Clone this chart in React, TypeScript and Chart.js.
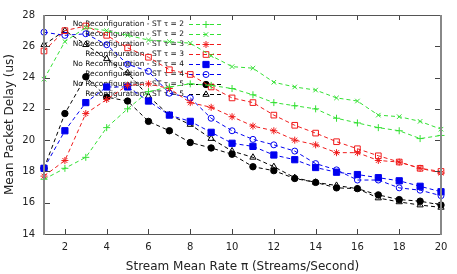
import React, { useEffect, useRef } from "react";
import { Chart, registerables } from "chart.js";
import { drawPoint } from "chart.js/helpers";

Chart.register(...registerables);

// ---- data ----
const rates = [1, 2, 3, 4, 5, 6, 7, 8, 9, 10, 11, 12, 13, 14, 15, 16, 17, 18, 19, 20];
const noReconfTau2 = [17.5, 18.2, 18.9, 20.8, 22.0, 23.1, 23.4, 23.6, 23.5, 23.3, 22.9, 22.4, 22.2, 22.0, 21.4, 21.1, 20.8, 20.6, 20.1, 20.3];
const reconfTau2 = [23.9, 26.3, 27.2, 27.0, 26.7, 26.4, 26.3, 26.2, 25.4, 24.7, 24.6, 23.7, 23.4, 23.2, 22.7, 22.5, 21.6, 21.5, 21.2, 20.7];
const noReconfTau3 = [17.7, 18.7, 21.7, 22.6, 23.5, 23.6, 23.3, 22.4, 22.1, 21.5, 20.9, 20.6, 20.0, 19.7, 19.2, 19.2, 18.7, 18.6, 18.2, 17.9];
const reconfTau3 = [25.7, 27.0, 27.3, 26.7, 25.9, 25.3, 24.5, 24.2, 23.4, 22.7, 22.4, 21.6, 20.95, 20.45, 19.9, 19.45, 19.0, 18.6, 18.2, 18.0];
const noReconfTau4 = [18.2, 20.6, 22.4, 23.4, 23.4, 22.5, 21.6, 21.2, 20.5, 19.8, 19.6, 19.05, 18.75, 18.25, 17.95, 17.8, 17.6, 17.4, 17.05, 16.7];
const reconfTau4 = [26.9, 26.7, 26.8, 26.1, 24.85, 24.4, 23.0, 22.7, 21.4, 20.6, 20.05, 19.7, 19.3, 18.5, 18.1, 17.45, 17.45, 16.95, 16.8, 16.45];
const noReconfTau5 = [18.2, 21.7, 24.05, 22.75, 22.5, 21.2, 20.6, 19.85, 19.5, 19.1, 18.3, 18.05, 17.55, 17.3, 16.95, 16.9, 16.5, 16.2, 16.1, 15.85];
const reconfTau5 = [26.1, 27.0, 26.1, 25.2, 24.3, 22.8, 21.6, 21.0, 20.1, 19.3, 18.9, 18.3, 17.6, 17.3, 17.1, 16.9, 16.3, 16.05, 15.85, 15.7];

const seriesLabels = [
  "No Reconfiguration - ST τ = 2",
  "Reconfiguration - ST τ = 2",
  "No Reconfiguration - ST τ = 3",
  "Reconfiguration - ST τ = 3",
  "No Reconfiguration - ST τ = 4",
  "Reconfiguration - ST τ = 4",
  "No Reconfiguration - ST τ = 5",
  "Reconfiguration - ST τ = 5",
];
const seriesValues = [
  noReconfTau2, reconfTau2, noReconfTau3, reconfTau3,
  noReconfTau4, reconfTau4, noReconfTau5, reconfTau5,
];
const xTicks = [2, 4, 6, 8, 10, 12, 14, 16, 18, 20];
const yTicks = [14, 16, 18, 20, 22, 24, 26, 28];
const xTitle = "Stream Mean Rate π (Streams/Second)";
const yTitle = "Mean Packet Delay (us)";

// ---- styles ----
const GREEN = "#33e033";
const RED = "#f01c1c";
const BLUE = "#0000f0";
const BLACK = "#000000";
const styles = [
  { color: GREEN, point: "cross", radius: 3.5, fill: false },
  { color: GREEN, point: "crossRot", radius: 3.2, fill: false },
  { color: RED, point: "star", radius: 3.5, fill: false },
  { color: RED, point: "rect", radius: 4, fill: false },
  { color: BLUE, point: "rect", radius: 4.4, fill: true },
  { color: BLUE, point: "circle", radius: 3, fill: false },
  { color: BLACK, point: "circle", radius: 3.2, fill: true },
  { color: BLACK, point: "triangle", radius: 3.6, fill: false },
];
const FONT = "'DejaVu Sans', Verdana, sans-serif";
const DASH = [4, 3];

const framePlugin = {
  id: "gnuFrame",
  beforeDatasetsDraw(chart: any) {
    const { ctx } = chart;
    ctx.save();
    ctx.font = `7.5px ${FONT}`;
    ctx.textAlign = "right";
    ctx.textBaseline = "middle";
    seriesLabels.forEach((lab, i) => {
      const y = 24 + i * 10;
      const st = styles[i];
      ctx.fillStyle = "#111";
      ctx.fillText(lab, 184, y);
      ctx.strokeStyle = st.color;
      ctx.lineWidth = 1;
      ctx.setLineDash(DASH);
      ctx.beginPath();
      ctx.moveTo(189, y + 0.5);
      ctx.lineTo(224, y + 0.5);
      ctx.stroke();
      ctx.setLineDash([]);
      ctx.fillStyle = st.fill ? st.color : "rgba(0,0,0,0)";
      drawPoint(ctx, { pointStyle: st.point, radius: st.radius, rotation: 0, borderWidth: 1 } as any, 206, y + 0.5);
    });
    ctx.restore();
  },
  afterDatasetsDraw(chart: any) {
    const { ctx, chartArea: a, scales } = chart;
    ctx.save();
    ctx.setLineDash([]);
    ctx.strokeStyle = "#444";
    ctx.lineWidth = 1;
    // ticks
    ctx.beginPath();
    xTicks.forEach((v) => {
      const x = Math.round(scales.x.getPixelForValue(v)) + 0.5;
      ctx.moveTo(x, a.bottom);
      ctx.lineTo(x, a.bottom - 5);
      ctx.moveTo(x, a.top);
      ctx.lineTo(x, a.top + 5);
    });
    yTicks.forEach((v) => {
      const y = Math.round(scales.y.getPixelForValue(v)) + 0.5;
      ctx.moveTo(a.left, y);
      ctx.lineTo(a.left + 6, y);
      ctx.moveTo(a.right, y);
      ctx.lineTo(a.right - 6, y);
    });
    ctx.stroke();
    // frame
    ctx.strokeStyle = "#555";
    ctx.beginPath();
    ctx.moveTo(a.left, Math.round(a.top) + 0.5);
    ctx.lineTo(a.right, Math.round(a.top) + 0.5);
    ctx.moveTo(a.left, Math.round(a.bottom) + 0.5);
    ctx.lineTo(a.right, Math.round(a.bottom) + 0.5);
    ctx.stroke();
    ctx.strokeStyle = "#888";
    ctx.lineWidth = 2;
    ctx.beginPath();
    ctx.moveTo(a.left, a.top);
    ctx.lineTo(a.left, a.bottom + 1);
    ctx.moveTo(a.right, a.top);
    ctx.lineTo(a.right, a.bottom + 1);
    ctx.stroke();
    ctx.restore();
  },
};

export default function App() {
  const ref = useRef<HTMLCanvasElement>(null);
  useEffect(() => {
    document.body.style.margin = "0";
    const canvas = ref.current!;
    const datasets = seriesValues.map((vals, i) => {
      const st = styles[i];
      return {
        label: seriesLabels[i],
        data: rates.map((r, k) => ({ x: r, y: vals[k] })),
        borderColor: st.color,
        backgroundColor: st.color,
        borderWidth: 1,
        borderDash: DASH,
        tension: 0,
        pointStyle: st.point,
        pointRadius: st.radius,
        pointHoverRadius: st.radius,
        pointBorderColor: st.color,
        pointBackgroundColor: st.fill ? st.color : "rgba(0,0,0,0)",
        pointBorderWidth: 1,
        clip: false,
      };
    });
    const chart = new Chart(canvas, {
      type: "line",
      data: { datasets } as any,
      options: {
        animation: false,
        responsive: false,
        devicePixelRatio: 1,
        layout: { padding: { top: 13, right: 16, bottom: 0, left: 0 } },
        plugins: { legend: { display: false }, tooltip: { enabled: false } },
        scales: {
          x: {
            type: "linear",
            min: 1,
            max: 20,
            afterBuildTicks: (s: any) => {
              s.ticks = xTicks.map((v) => ({ value: v }));
            },
            afterFit: (s: any) => {
              s.height = 40;
            },
            grid: { display: false, drawTicks: false },
            border: { display: false },
            ticks: { font: { family: FONT, size: 10 }, color: "#222", padding: 7, maxRotation: 0, autoSkip: false },
            title: { display: true, text: xTitle, font: { family: FONT, size: 12 }, color: "#222", padding: 0 },
          },
          y: {
            type: "linear",
            min: 14,
            max: 28,
            afterBuildTicks: (s: any) => {
              s.ticks = yTicks.map((v) => ({ value: v }));
            },
            afterFit: (s: any) => {
              s.width = 44;
            },
            grid: { display: false, drawTicks: false },
            border: { display: false },
            ticks: { font: { family: FONT, size: 10 }, color: "#222", padding: 9, autoSkip: false },
            title: { display: true, text: yTitle, font: { family: FONT, size: 12 }, color: "#222", padding: { top: 3, bottom: 0 } },
          },
        },
      } as any,
      plugins: [framePlugin],
    });
    return () => chart.destroy();
  }, []);
  return (
    <div style={{ width: 457, height: 274 }}>
      <canvas ref={ref} width={457} height={274} />
    </div>
  );
}
